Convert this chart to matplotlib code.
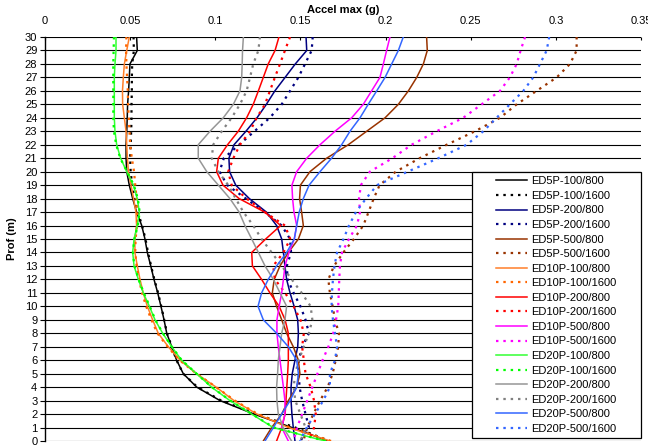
import matplotlib.pyplot as plt
from matplotlib.patches import Rectangle

plt.rcParams['font.family'] = ['Liberation Sans', 'DejaVu Sans']

# profondeur (m), du haut (30) vers le bas (0)
depth = [30, 29, 28, 27, 26, 25, 24, 23, 22, 21, 20, 19, 18, 17, 16, 15,
         14, 13, 12, 11, 10, 9, 8, 7, 6, 5, 4, 3, 2, 1, 0]

# accelerations max (g)
ed5p_100_800 = [.0538, .0542, .0499, .0495, .0491, .0485, .0483, .0480, .0476, .0476, .0480,
                .0495, .0515, .0538, .0568, .0587, .0601, .0621, .0640, .0662, .0681,
                .0699, .0715, .0744, .0773, .0812, .0891, .1028, .1227, .1450, .1662]
ed5p_100_1600 = [.0520, .0522, .0512, .0510, .0510, .0508, .0508, .0506, .0503, .0500, .0503,
                 .0512, .0525, .0545, .0570, .0590, .0605, .0623, .0642, .0664, .0683,
                 .0700, .0716, .0745, .0772, .0812, .0895, .1035, .1240, .1470, .1670]
ed5p_200_800 = [.1533, .1537, .1470, .1410, .1350, .1300, .1245, .1180, .1110, .1080, .1084,
                .1120, .1200, .1300, .1360, .1390, .1400, .1409, .1419, .1439, .1463,
                .1484, .1488, .1484, .1468, .1452, .1445, .1445, .1450, .1458, .1468]
ed5p_200_1600 = [.1572, .1566, .1527, .1488, .1439, .1390, .1320, .1230, .1140, .1050, .1025,
                 .1070, .1180, .1290, .1390, .1439, .1445, .1420, .1425, .1460, .1500,
                 .1530, .1550, .1510, .1490, .1490, .1495, .1510, .1530, .1550, .1500]
ed5p_500_800 = [.2241, .2245, .2222, .2183, .2134, .2075, .1997, .1889, .1781, .1654, .1556,
                .1500, .1495, .1507, .1517, .1488, .1429, .1380, .1346, .1335, .1360,
                .1390, .1419, .1458, .1488, .1497, .1478, .1429, .1390, .1331, .1282]
ed5p_500_1600 = [.3122, .3122, .3083, .3005, .2887, .2770, .2672, .2525, .2359, .2200, .2060,
                 .1965, .1930, .1900, .1869, .1814, .1752, .1697, .1664, .1673, .1689,
                 .1703, .1726, .1722, .1707, .1689, .1660, .1615, .1576, .1540, .1517]
ed10p_100_800 = [.0495, .0480, .0466, .0460, .0455, .0456, .0466, .0476, .0480, .0484, .0490,
                 .0505, .0520, .0534, .0538, .0528, .0528, .0542, .0558, .0577, .0601,
                 .0632, .0665, .0724, .0793, .0890, .1005, .1110, .1245, .1430, .1675]
ed10p_100_1600 = [.0478, .0476, .0478, .0482, .0486, .0488, .0492, .0496, .0500, .0510, .0523,
                  .0530, .0538, .0542, .0540, .0532, .0530, .0538, .0552, .0570, .0594,
                  .0625, .0660, .0720, .0790, .0890, .1005, .1115, .1250, .1440, .1680]
ed10p_200_800 = [.1374, .1351, .1311, .1282, .1253, .1223, .1184, .1135, .1072, .1018, .1008,
                 .1045, .1140, .1290, .1384, .1296, .1214, .1218, .1272, .1321, .1375,
                 .1410, .1429, .1429, .1429, .1425, .1420, .1415, .1410, .1390, .1360]
ed10p_200_1600 = [.1439, .1409, .1380, .1350, .1321, .1292, .1243, .1204, .1145, .1106, .1076,
                  .1096, .1184, .1290, .1409, .1440, .1400, .1340, .1350, .1410, .1460,
                  .1500, .1520, .1510, .1520, .1530, .1560, .1580, .1590, .1580, .1550]
ed10p_500_800 = [.2026, .2006, .1987, .1967, .1918, .1869, .1801, .1703, .1615, .1537, .1478,
                 .1450, .1454, .1462, .1478, .1464, .1433, .1409, .1400, .1390, .1375,
                 .1362, .1362, .1370, .1380, .1390, .1400, .1409, .1409, .1390, .1429]
ed10p_500_1600 = [.2819, .2793, .2770, .2730, .2672, .2564, .2456, .2300, .2153, .2040, .1908,
                  .1855, .1844, .1850, .1832, .1785, .1744, .1732, .1728, .1725, .1722,
                  .1709, .1693, .1664, .1630, .1600, .1570, .1540, .1510, .1480, .1460]
ed20p_100_800 = [.0417, .0417, .0411, .0407, .0407, .0407, .0407, .0411, .0421, .0444, .0480,
                 .0519, .0542, .0554, .0542, .0523, .0515, .0523, .0548, .0577, .0613,
                 .0646, .0691, .0744, .0802, .0890, .0978, .1086, .1213, .1340, .1645]
ed20p_100_1600 = [.0405, .0403, .0401, .0401, .0401, .0401, .0401, .0405, .0418, .0442, .0482,
                  .0522, .0545, .0556, .0545, .0525, .0516, .0525, .0550, .0580, .0615,
                  .0648, .0692, .0745, .0803, .0890, .0980, .1088, .1215, .1345, .1648]
ed20p_200_800 = [.1165, .1160, .1158, .1155, .1145, .1106, .1047, .0969, .0900, .0900, .0950,
                 .1018, .1086, .1140, .1174, .1214, .1253, .1292, .1341, .1380, .1419,
                 .1409, .1390, .1380, .1370, .1366, .1360, .1362, .1370, .1399, .1448]
ed20p_200_1600 = [.1262, .1253, .1223, .1204, .1184, .1145, .1096, .1038, .0988, .0979, .1018,
                  .1076, .1120, .1165, .1223, .1272, .1331, .1390, .1449, .1507, .1560,
                  .1570, .1550, .1520, .1490, .1470, .1460, .1470, .1500, .1530, .1500]
ed20p_500_800 = [.2104, .2075, .2036, .1997, .1948, .1898, .1850, .1791, .1742, .1683, .1615,
                 .1551, .1517, .1493, .1478, .1464, .1419, .1360, .1311, .1272, .1251,
                 .1282, .1360, .1429, .1478, .1488, .1478, .1439, .1390, .1341, .1292]
ed20p_500_1600 = [.2961, .2946, .2907, .2867, .2809, .2730, .2652, .2574, .2476, .2310, .2130,
                  .1950, .1885, .1826, .1785, .1753, .1715, .1700, .1691, .1685, .1683,
                  .1691, .1703, .1715, .1703, .1673, .1673, .1634, .1585, .1537, .1497]

xticks = [0, 0.05, 0.1, 0.15, 0.2, 0.25, 0.3, 0.35]
xtick_labels = ['0', '0.05', '0.1', '0.15', '0.2', '0.25', '0.3', '0.35']

series = [
    ('ED5P-100/800', ed5p_100_800, '#000000', '-'),
    ('ED5P-100/1600', ed5p_100_1600, '#000000', ':'),
    ('ED5P-200/800', ed5p_200_800, '#000080', '-'),
    ('ED5P-200/1600', ed5p_200_1600, '#000080', ':'),
    ('ED5P-500/800', ed5p_500_800, '#993300', '-'),
    ('ED5P-500/1600', ed5p_500_1600, '#993300', ':'),
    ('ED10P-100/800', ed10p_100_800, '#FF7F2A', '-'),
    ('ED10P-100/1600', ed10p_100_1600, '#FF6600', ':'),
    ('ED10P-200/800', ed10p_200_800, '#FF0000', '-'),
    ('ED10P-200/1600', ed10p_200_1600, '#FF0000', ':'),
    ('ED10P-500/800', ed10p_500_800, '#FF00FF', '-'),
    ('ED10P-500/1600', ed10p_500_1600, '#FF00FF', ':'),
    ('ED20P-100/800', ed20p_100_800, '#33FF33', '-'),
    ('ED20P-100/1600', ed20p_100_1600, '#00FF00', ':'),
    ('ED20P-200/800', ed20p_200_800, '#969696', '-'),
    ('ED20P-200/1600', ed20p_200_1600, '#808080', ':'),
    ('ED20P-500/800', ed20p_500_800, '#3366FF', '-'),
    ('ED20P-500/1600', ed20p_500_1600, '#3366FF', ':'),
]

fig = plt.figure(figsize=(6.48, 4.47), dpi=100)
ax = fig.add_axes([45 / 648, 6 / 447, 596 / 648, 404 / 447])

for label, vals, color, ls in series:
    if ls == '-':
        ax.plot(vals, depth, color=color, lw=1.1, label=label)
    else:
        ax.plot(vals, depth, color=color, lw=1.6, linestyle=(0, (1.1, 2.2)), label=label)

ax.set_xlim(0, 0.35)
ax.set_ylim(0, 30)
ax.set_yticks(range(0, 31))
ax.set_xticks(xticks)
ax.set_xticklabels(xtick_labels)

ax.xaxis.tick_top()
ax.xaxis.set_label_position('top')
ax.tick_params(axis='x', direction='in', length=2.5, pad=8, labelsize=8, width=0.8)
ax.tick_params(axis='y', direction='out', length=3.5, pad=2, labelsize=8, width=0.8)
ax.set_xlabel('Accel max (g)', fontsize=8, fontweight='bold', labelpad=2)
ax.set_ylabel('Prof (m)', fontsize=8, fontweight='bold', labelpad=6)

ax.yaxis.grid(True, color='black', lw=0.8)
ax.set_axisbelow(True)
for s in ['top', 'right', 'bottom']:
    ax.spines[s].set_visible(False)
ax.spines['left'].set_linewidth(1)

# cadre de la legende
box = (0.7164, 0.0074, 0.2836, 0.6584)
ax.add_patch(Rectangle(box[:2], box[2], box[3], transform=ax.transAxes,
                       facecolor='white', edgecolor='black', lw=0.9, zorder=4.5, clip_on=False))
ax.legend(loc='center', bbox_to_anchor=box, frameon=False, fontsize=8,
          handlelength=2.8, handletextpad=0.35, labelspacing=0.41, borderpad=0.2)

plt.savefig('out.png', dpi=100)
